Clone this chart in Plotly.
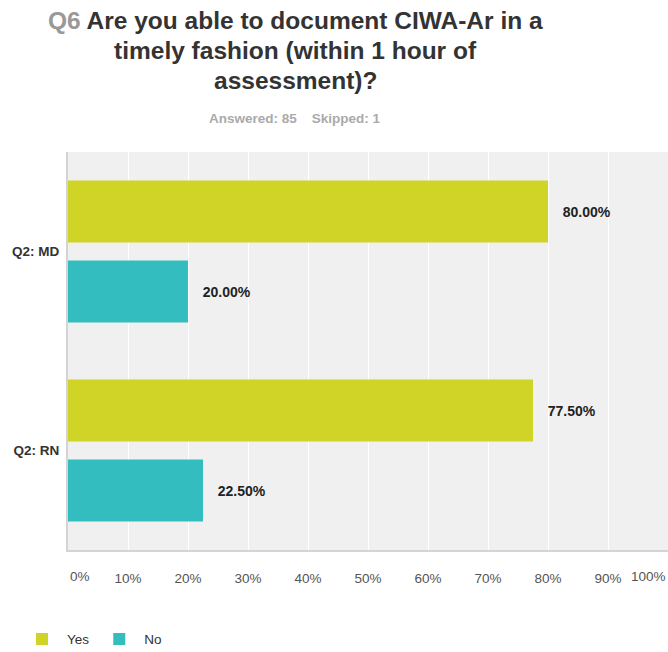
import plotly.graph_objects as go

# survey data
categories = ["Q2: MD", "Q2: RN"]
yes_pct = [80.00, 77.50]
no_pct = [20.00, 22.50]
answered = 85
skipped = 1
x_ticks = list(range(0, 101, 10))
question = "Q6"
title_lines = [
    "Are you able to document CIWA-Ar in a",
    "timely fashion (within 1 hour of",
    "assessment)?",
]

YES_COLOR = "#d0d426"
NO_COLOR = "#33bdbf"
FONT = "Liberation Sans, Arial, sans-serif"

W, H = 668, 652
L, T, B = 68, 152, 102
PLOT_W = W - L

fig = go.Figure()
for name, vals, color in [("Yes", yes_pct, YES_COLOR), ("No", no_pct, NO_COLOR)]:
    fig.add_trace(go.Bar(
        y=categories,
        x=vals,
        name=name,
        orientation="h",
        marker=dict(color=color, line=dict(width=0)),
        texttemplate="\u00a0\u00a0\u00a0%{x:.2f}%",
        textposition="outside",
        textfont=dict(family=FONT, size=14, color="#222222", weight="bold"),
        cliponaxis=False,
    ))

# the end tick labels are pushed inward in the original
inner_ticks = x_ticks[1:-1]
tick_font = dict(family=FONT, size=13.5, color="#555555")
fig.add_annotation(x=x_ticks[0], y=0, xref="x", yref="paper", text=f"{x_ticks[0]}%",
                   showarrow=False, xanchor="left", yanchor="top", yshift=-17,
                   font=tick_font)
fig.add_annotation(x=x_ticks[-1], y=0, xref="x", yref="paper", text=f"{x_ticks[-1]}%",
                   showarrow=False, xanchor="right", yanchor="top", yshift=-17,
                   font=tick_font)

fig.update_layout(
    width=W,
    height=H,
    margin=dict(l=L, r=0, t=T, b=B, autoexpand=False),
    paper_bgcolor="white",
    plot_bgcolor="#f0f0f0",
    barmode="group",
    bargap=0.196,
    bargroupgap=0.225,
    font=dict(family=FONT, size=12, color="#333333"),
    xaxis=dict(
        range=[0, 100],
        tickvals=inner_ticks,
        ticktext=[f"{t}%" for t in inner_ticks],
        showgrid=True,
        gridcolor="white",
        gridwidth=1,
        zeroline=False,
        showline=True,
        linecolor="#d4d4d4",
        linewidth=2,
        ticks="outside",
        ticklen=0,
        ticklabelstandoff=15,
        tickfont=tick_font,
        fixedrange=True,
    ),
    yaxis=dict(
        autorange="reversed",
        showgrid=False,
        showline=True,
        linecolor="#d4d4d4",
        linewidth=2,
        ticks="",
        ticklabelstandoff=4,
        tickfont=dict(family=FONT, size=13.5, color="#333333", weight="bold"),
        fixedrange=True,
    ),
    legend=dict(
        orientation="h",
        x=-0.085,
        y=-0.185,
        xanchor="left",
        yanchor="top",
        font=dict(family=FONT, size=13.5, color="#333333"),
        itemwidth=40,
    ),
)

# title block, centred at x=295, one annotation per line
title_x = (295 - L) / PLOT_W
title_font = dict(family=FONT, size=24.5, color="#333333", weight="bold")
for i, line in enumerate(title_lines):
    if i == 0:
        line = f"<span style='color:#999999'>{question}</span> {line}"
    fig.add_annotation(
        x=title_x, y=1, xref="paper", yref="paper",
        yshift=T - (20 + 30 * i), xanchor="center", yanchor="middle",
        text=line, showarrow=False, font=title_font,
    )
fig.add_annotation(
    x=title_x, y=1, xref="paper", yref="paper",
    yshift=T - 118, xanchor="center", yanchor="middle",
    text=f"Answered: {answered}&nbsp;&nbsp;&nbsp;&nbsp;Skipped: {skipped}",
    showarrow=False,
    font=dict(family=FONT, size=13.5, color="#aaaaaa", weight="bold"),
)

# drop the default page margin so the figure fills the window
fig.write_html(
    "out.html",
    config={"displayModeBar": False},
    post_script="document.body.style.margin='0';document.body.style.overflow='hidden';",
)
